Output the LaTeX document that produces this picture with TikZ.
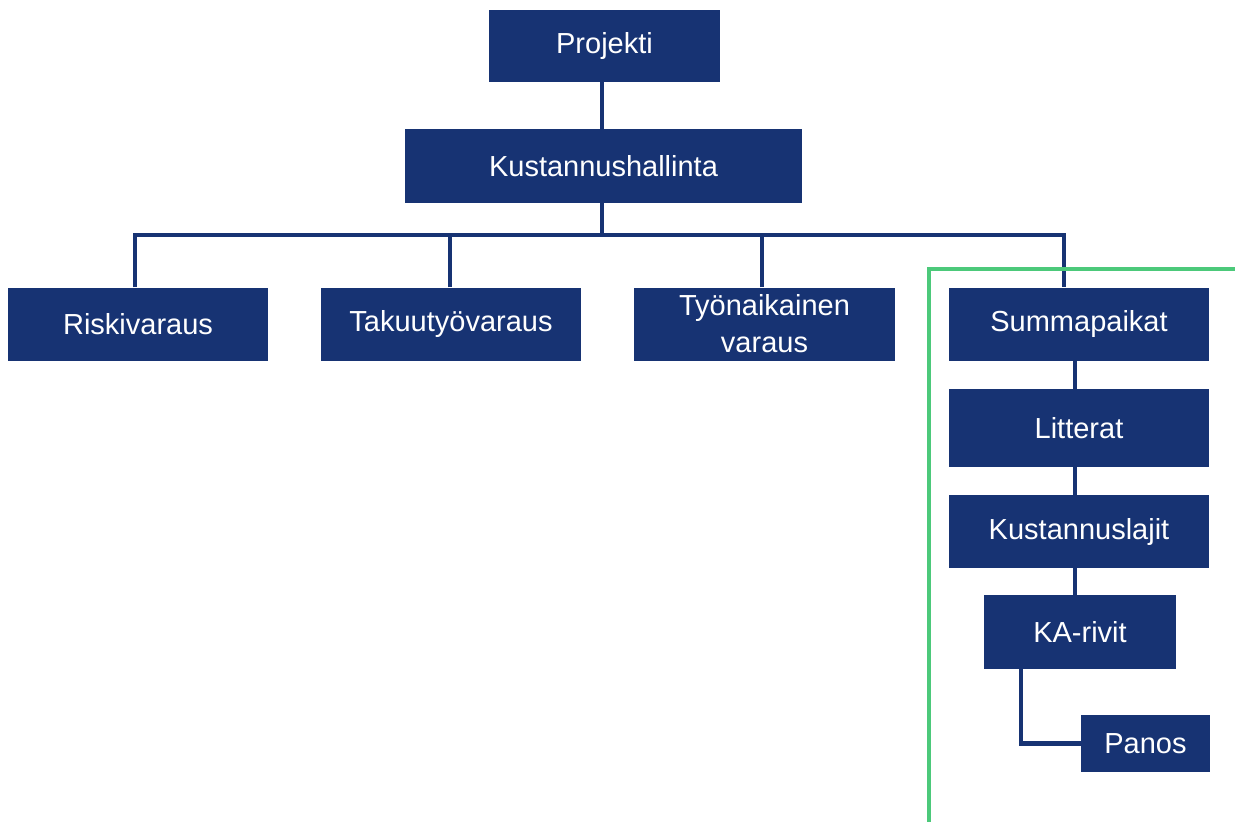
\documentclass[tikz,border=0pt]{standalone}
\usepackage{fontspec}
\setmainfont{Liberation Sans}
\definecolor{navy}{RGB}{23,51,115}
\definecolor{frame}{RGB}{76,201,122}
\tikzset{
  box/.style={rectangle, fill=navy, text=white, inner sep=0pt, align=center,
    font=\fontsize{29}{37}\selectfont},
  conn/.style={draw=navy, line width=4.5pt},
}
\begin{document}
\begin{tikzpicture}[x=1pt, y=-1pt]
\useasboundingbox (0,0) rectangle (1235,822);

% top of the hierarchy
\node[box, minimum width=231pt, minimum height=72pt] (pr) at (604.5,46) {Projekti};
\node[box, minimum width=397pt, minimum height=74pt] (kh) at (603.5,166) {Kustannushallinta};

% second level
\node[box, minimum width=260pt, minimum height=73pt] (rv) at (138,324) {Riskivaraus};
\node[box, minimum width=260pt, minimum height=73pt] (tv) at (451,324) {Takuutyövaraus};
\node[box, minimum width=261pt, minimum height=73pt] (tn) at (764.5,324) {Työnaikainen\\varaus};
\node[box, minimum width=260pt, minimum height=73pt] (sp) at (1079,324) {Summapaikat};

% cost breakdown chain
\node[box, minimum width=260pt, minimum height=78pt] (li) at (1079,428) {Litterat};
\node[box, minimum width=260pt, minimum height=73pt] (kl) at (1079,531.5) {Kustannuslajit};
\node[box, minimum width=192pt, minimum height=74pt] (ka) at (1080,632) {KA-rivit};
\node[box, minimum width=129pt, minimum height=57pt] (pa) at (1145.5,743.5) {Panos};

% bus coordinates
\coordinate (bus) at (602,235);
\coordinate (busL) at (135,235);
\coordinate (busR) at (1064,235);

\begin{scope}[on background layer/.try]
\draw[conn] (pr.south -| bus) -- (kh.north -| bus);
\draw[conn] (kh.south -| bus) -- (bus);
\draw[conn] (rv.north -| busL) -- (busL) -- (busR) -- (sp.north -| busR);
\draw[conn] (tv.north -| 450,0) -- (450,235);
\draw[conn] (tn.north -| 762,0) -- (762,235);
\draw[conn] (sp.south -| 1075,0) -- (li.north -| 1075,0);
\draw[conn] (li.south -| 1075,0) -- (kl.north -| 1075,0);
\draw[conn] (kl.south -| 1075,0) -- (ka.north -| 1075,0);
\draw[conn] (ka.south -| 1021,0) |- (pa.west);
\end{scope}

% highlight frame
\draw[draw=frame, line width=4.5pt] (929,822) -- (929,269) -- (1235,269);
\end{tikzpicture}
\end{document}
